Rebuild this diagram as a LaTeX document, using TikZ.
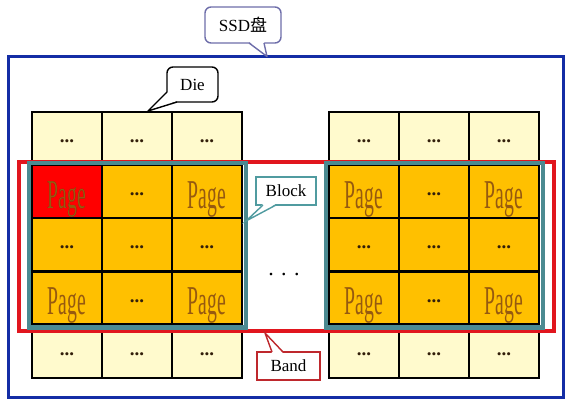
\documentclass[tikz,border=0pt]{standalone}
\usepackage{fontspec}
\usepackage{graphicx}
\setmainfont{Liberation Serif}
\newfontfamily\cjk{Noto Sans CJK SC}
\usetikzlibrary{calc}
\definecolor{ssdblue}{RGB}{20,45,165}
\definecolor{ssdcall}{RGB}{110,110,170}
\definecolor{bandred}{RGB}{225,22,30}
\definecolor{bandcall}{RGB}{190,40,45}
\definecolor{blockteal}{RGB}{75,138,145}
\definecolor{blockcall}{RGB}{80,155,160}
\definecolor{cellyellow}{RGB}{255,250,205}
\definecolor{cellorange}{RGB}{255,192,0}
\definecolor{cellred}{RGB}{255,0,0}
\definecolor{pagebrown}{RGB}{150,90,16}
\definecolor{pagedark}{RGB}{150,0,0}
\definecolor{dotdark}{RGB}{50,30,10}
\newcommand{\pg}[1]{{\fontsize{41}{41}\selectfont\color{#1}\scalebox{0.48}[1]{Page}}}
\newcommand{\dd}{{\fontsize{19}{19}\selectfont\bfseries\color{dotdark}...}}
\begin{document}
\begin{tikzpicture}[x=1pt,y=-1pt,
  cellbox/.style={draw=black,line width=1.5pt,minimum width=70pt,minimum height=53pt,inner sep=0pt},
  ycell/.style={cellbox,fill=cellyellow},
  ocell/.style={cellbox,fill=cellorange,line width=2.2pt},
  rcell/.style={cellbox,fill=cellred,line width=2.2pt},
  txt/.style={inner sep=0pt},
  callbox/.style={draw,fill=white,line width=1.4pt,inner sep=0pt,font=\fontsize{17}{17}\selectfont},
]
\useasboundingbox (0,0) rectangle (576,409);
\fill[white] (0,0) rectangle (576,409);

% outer SSD frame
\draw[ssdblue,line width=3pt] (8,57) rectangle (563,397);

% cells
\foreach \g/\xo in {L/67,R/364}{
  \foreach \c in {1,2,3}{
    \pgfmathsetmacro{\cx}{\xo+70*(\c-1)}
    \node[ycell] (\g-1-\c) at (\cx,138.5) {};
    \node[ycell] (\g-5-\c) at (\cx,351.5) {};
    \node[txt] (\g-1-\c-t) at ($(\g-1-\c.center)+(0,3)$) {\dd};
    \node[txt] (\g-5-\c-t) at ($(\g-5-\c.center)+(0,3)$) {\dd};
  }
}
\foreach \g/\xo in {L/67,R/364}{
  \foreach \r/\cy in {2/191.5,3/244.5,4/298}{
    \foreach \c in {1,2,3}{
      \pgfmathsetmacro{\cx}{\xo+70*(\c-1)}
      \node[ocell] (\g-\r-\c) at (\cx,\cy) {};
    }
  }
}
\node[rcell] (L-2-1) at (67,191.5) {};

% cell texts
\node[txt] (tL21) at ($(L-2-1.center)+(0,8)$) {\pg{pagedark}};
\foreach \g in {L,R}{
  \ifx\g L\else\node[txt] (t\g21) at ($(\g-2-1.center)+(0,8)$) {\pg{pagebrown}};\fi
  \node[txt] (t\g23) at ($(\g-2-3.center)+(0,8)$) {\pg{pagebrown}};
  \node[txt] (t\g41) at ($(\g-4-1.center)+(0,8)$) {\pg{pagebrown}};
  \node[txt] (t\g43) at ($(\g-4-3.center)+(0,8)$) {\pg{pagebrown}};
  \node[txt] (t\g22) at ($(\g-2-2.center)+(0,3)$) {\dd};
  \node[txt] (t\g42) at ($(\g-4-2.center)+(0,3)$) {\dd};
  \foreach \c in {1,2,3}{
    \node[txt] (t\g3\c) at ($(\g-3-\c.center)+(0,3)$) {\dd};
  }
}

% band
\draw[bandred,line width=4.5pt] (19,162) rectangle (554,331);
% blocks
\draw[blockteal,line width=4.5pt] (L-2-1.north west) ++(-2,-1) rectangle ($(L-4-3.south east)+(3,2)$);
\draw[blockteal,line width=4.5pt] (R-2-1.north west) ++(-2,-1) rectangle ($(R-4-3.south east)+(3,2)$);

% middle dots
\node[txt,anchor=base] (middots) at (284,275) {\fontsize{22}{22}\selectfont . . .};

% SSD callout
\node[callbox,draw=ssdcall,rounded corners=6pt,minimum width=76pt,minimum height=36pt] (ssd) at (243,25) {SSD{\cjk 盘}};
\coordinate (ssdtip) at (267,56.5);
\coordinate (ssda) at (249,43);
\coordinate (ssdb) at (264,43);
\fill[white] ($(ssda)+(0,-1.5)$) -- (ssdtip) -- ($(ssdb)+(0,-1.5)$) -- cycle;
\draw[ssdcall,line width=1.4pt,line join=round] (ssda) -- (ssdtip) -- (ssdb);

% Die callout
\node[callbox,draw=black,rounded corners=6pt,minimum width=51pt,minimum height=35pt] (die) at (192.5,84.5) {Die};
\coordinate (dietip) at (148,111);
\coordinate (diea) at (167,92);
\coordinate (dieb) at (177,102);
\fill[white] ($(diea)+(1,0)$) -- (dietip) -- ($(dieb)+(0,-1)$) -- cycle;
\draw[black,line width=1.4pt,line join=round] (diea) -- (dietip) -- (dieb);

% Block callout
\node[callbox,draw=blockcall,minimum width=60pt,minimum height=28pt] (blk) at (286,191) {Block};
\coordinate (blktip) at (246,221);
\coordinate (blka) at (263,205);
\coordinate (blkb) at (276,205);
\fill[white] ($(blka)+(0,-1.2)$) -- (blktip) -- ($(blkb)+(0,-1.2)$) -- cycle;
\draw[blockcall,line width=1.4pt] (blka) -- (blktip) -- (blkb);

% Band callout
\node[callbox,draw=bandcall,minimum width=63pt,minimum height=28pt] (band) at (288.5,366) {Band};
\coordinate (bandtip) at (265,333);
\coordinate (banda) at (272,352);
\coordinate (bandb) at (283,352);
\fill[white] ($(banda)+(0,1.2)$) -- (bandtip) -- ($(bandb)+(0,1.2)$) -- cycle;
\draw[bandcall,line width=1.4pt] (banda) -- (bandtip) -- (bandb);
\end{tikzpicture}
\end{document}
